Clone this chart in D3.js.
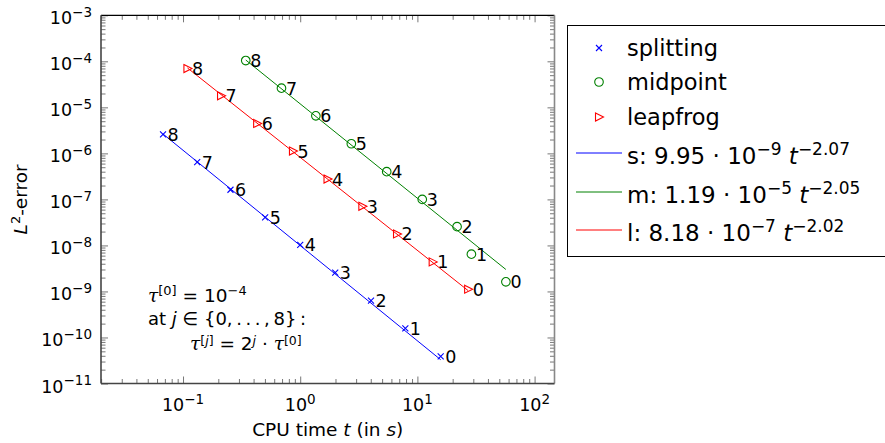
<!DOCTYPE html>
<html>
<head>
<meta charset="utf-8">
<script src="https://cdn.jsdelivr.net/npm/d3@7"></script>
<style>
  body { margin: 0; background: #fff; }
  text { font-family: "DejaVu Sans", sans-serif; fill: #000; }
</style>
</head>
<body>
<div id="chart"></div>
<script>
// step index j = 0..8
const steps = [0, 1, 2, 3, 4, 5, 6, 7, 8];

const splitT = [15.8, 7.89, 4.02, 1.99, 1.0, 0.502, 0.254, 0.132, 0.0675];
const splitErr = [3.87e-11, 1.57e-10, 6.35e-10, 2.57e-9, 1.03e-8, 4.08e-8, 1.62e-7, 6.47e-7, 2.58e-6];

const midT = [56.9, 28.9, 21.8, 11.0, 5.47, 2.73, 1.36, 0.692, 0.343];
const midErr = [1.62e-9, 6.45e-9, 2.56e-8, 1.0e-7, 4.0e-7, 1.62e-6, 6.55e-6, 2.61e-5, 1.04e-4];

const leapT = [27.1, 13.5, 6.70, 3.39, 1.71, 0.867, 0.429, 0.211, 0.109];
const leapErr = [1.12e-9, 4.39e-9, 1.78e-8, 7.08e-8, 2.77e-7, 1.12e-6, 4.47e-6, 1.78e-5, 6.97e-5];

// fitted power laws c * t^p
const fitNames = ["s", "m", "l"];
const fitCoef = [9.95e-9, 1.19e-5, 8.18e-7];
const fitCoefMant = ["9.95", "1.19", "8.18"];
const fitCoefExp = ["\u22129", "\u22125", "\u22127"];
const fitPow = [-2.07, -2.05, -2.02];

const xTickExp = [-1, 0, 1, 2];
const yTickExp = [-11, -10, -9, -8, -7, -6, -5, -4, -3];

const width = 885, height = 443;
const margin = { top: 15.3, left: 101, right: 885 - 554.5, bottom: 443 - 383.5 };

const svg = d3.select("#chart").append("svg")
  .attr("width", width).attr("height", height);

const x = d3.scaleLog().domain([Math.pow(10, -1.70), Math.pow(10, 2.17)])
  .range([margin.left, width - margin.right]);
const y = d3.scaleLog().domain([1e-11, 1e-3])
  .range([height - margin.bottom, margin.top]);

const x0 = x.range()[0], x1 = x.range()[1];
const y0 = y.range()[0], y1 = y.range()[1];

// minor tick values
function minors(lo, hi) {
  const out = [];
  for (let e = lo; e < hi; e++)
    for (let k = 2; k <= 9; k++) out.push(k * Math.pow(10, e));
  return out;
}
const xMinor = minors(-2, 3).filter(v => v >= x.domain()[0] && v <= x.domain()[1]);
const yMinor = minors(-11, -3);
const xMajor = xTickExp.map(e => Math.pow(10, e));
const yMajor = yTickExp.map(e => Math.pow(10, e));

function tickAxis(axis, vals, size, tr) {
  const g = svg.append("g").attr("transform", tr)
    .call(axis.tickValues(vals).tickSize(size).tickSizeOuter(0).tickFormat(""));
  g.select(".domain").remove();
  g.selectAll("line").attr("stroke", "#777").attr("stroke-width", 1);
  return g;
}
// ticks pointing inside on all four sides
tickAxis(d3.axisBottom(x), xMinor, -4.5, `translate(0,${y0})`);
tickAxis(d3.axisBottom(x), xMajor, -7, `translate(0,${y0})`);
tickAxis(d3.axisTop(x), xMinor, -4.5, `translate(0,${y1})`);
tickAxis(d3.axisTop(x), xMajor, -7, `translate(0,${y1})`);
tickAxis(d3.axisLeft(y), yMinor, -4.5, `translate(${x0},0)`);
tickAxis(d3.axisLeft(y), yMajor, -7, `translate(${x0},0)`);
tickAxis(d3.axisRight(y), yMinor, -4.5, `translate(${x1},0)`);
tickAxis(d3.axisRight(y), yMajor, -7, `translate(${x1},0)`);

// frame
svg.append("line").attr("x1", x0).attr("x2", x1).attr("y1", y1).attr("y2", y1)
  .attr("stroke", "#000").attr("stroke-width", 1.2);
svg.append("line").attr("x1", x1).attr("x2", x1).attr("y1", y1).attr("y2", y0)
  .attr("stroke", "#888").attr("stroke-width", 1.6);
svg.append("line").attr("x1", x0).attr("x2", x0).attr("y1", y1).attr("y2", y0)
  .attr("stroke", "#444").attr("stroke-width", 1.6);
svg.append("line").attr("x1", x0).attr("x2", x1).attr("y1", y0).attr("y2", y0)
  .attr("stroke", "#444").attr("stroke-width", 1.6);

// base^exp text helper
function powText(t, base, exp, fsExp, lift) {
  t.append("tspan").text(base);
  t.append("tspan").attr("dy", -lift).style("font-size", fsExp + "px").text(exp);
  return t;
}

// tick labels
xTickExp.forEach(e => {
  const t = svg.append("text").attr("x", x(Math.pow(10, e))).attr("y", 411)
    .attr("text-anchor", "middle").style("font-size", "17.5px");
  powText(t, "10", e < 0 ? "\u2212" + (-e) : String(e), 13.5, 7.5);
});
yTickExp.forEach(e => {
  const t = svg.append("text").attr("x", 92).attr("y", y(Math.pow(10, e)) + 9)
    .attr("text-anchor", "end").style("font-size", "17.5px");
  powText(t, "10", "\u2212" + (-e), 13.5, 7.5);
});

// axis labels
const xl = svg.append("text").attr("x", (x0 + x1) / 2).attr("y", 436)
  .attr("text-anchor", "middle").style("font-size", "18.5px");
xl.append("tspan").text("CPU time ");
xl.append("tspan").style("font-style", "italic").text("t");
xl.append("tspan").text(" (in ");
xl.append("tspan").style("font-style", "italic").text("s");
xl.append("tspan").text(")");

const yl = svg.append("text").attr("transform", `translate(27,${(y0 + y1) / 2}) rotate(-90)`)
  .attr("text-anchor", "middle").style("font-size", "18.5px");
yl.append("tspan").style("font-style", "italic").text("L");
yl.append("tspan").attr("dy", -7).style("font-size", "13px").text("2");
yl.append("tspan").attr("dy", 7).text("-error");

// series
const series = [
  { t: splitT, e: splitErr, color: "#0000ff", mark: "cross", fit: 0 },
  { t: midT, e: midErr, color: "#008000", mark: "circle", fit: 1 },
  { t: leapT, e: leapErr, color: "#ff0000", mark: "tri", fit: 2 }
];

function drawMark(g, kind, color) {
  if (kind === "cross") {
    g.append("path").attr("d", "M-3,-3L3,3M-3,3L3,-3")
      .attr("stroke", color).attr("stroke-width", 1.1).attr("fill", "none");
  } else if (kind === "circle") {
    g.append("circle").attr("r", 4.3)
      .attr("stroke", color).attr("stroke-width", 1.1).attr("fill", "none");
  } else {
    g.append("path").attr("d", "M-3.5,-4L4.5,0L-3.5,4Z")
      .attr("stroke", color).attr("stroke-width", 1.1).attr("fill", "none");
  }
}

const fitLine = d3.line().x(d => x(d[0])).y(d => y(d[1]));

series.forEach(s => {
  const c = fitCoef[s.fit], p = fitPow[s.fit];
  const ext = d3.extent(s.t);
  svg.append("path")
    .datum(ext.map(t => [t, c * Math.pow(t, p)]))
    .attr("d", fitLine).attr("fill", "none")
    .attr("stroke", s.color).attr("stroke-width", 1);

  steps.forEach(j => {
    const g = svg.append("g")
      .attr("transform", `translate(${x(s.t[j])},${y(s.e[j])})`);
    drawMark(g, s.mark, s.color);
    g.append("text").attr("x", 4.5).attr("y", 6.5).style("font-size", "17.5px").text(j);
  });
});

// annotation
const serif = "'DejaVu Serif', serif";
const a1 = svg.append("text").attr("x", 148).attr("y", 302).style("font-size", "18.5px");
a1.append("tspan").style("font-family", serif).style("font-style", "italic").text("\u03C4");
a1.append("tspan").attr("dy", -7).style("font-size", "13px").text("[0]");
a1.append("tspan").attr("dy", 7).text(" = 10");
a1.append("tspan").attr("dy", -7).style("font-size", "13px").text("\u22124");

const a2 = svg.append("text").attr("x", 148).attr("y", 325).style("font-size", "18px");
a2.append("tspan").text("at ");
a2.append("tspan").style("font-style", "italic").text("j");
a2.append("tspan").text(" \u2208 {0,\u2009.\u2009.\u2009.\u2009,\u20098}\u2009:");

const a3 = svg.append("text").attr("x", 190).attr("y", 350).style("font-size", "18.5px");
a3.append("tspan").style("font-family", serif).style("font-style", "italic").text("\u03C4");
a3.append("tspan").attr("dy", -5).style("font-size", "12.5px").text("[");
a3.append("tspan").style("font-size", "12.5px").style("font-style", "italic").text("j");
a3.append("tspan").style("font-size", "12.5px").text("]");
a3.append("tspan").attr("dy", 5).text(" = 2");
a3.append("tspan").attr("dy", -5).style("font-size", "12.5px").style("font-style", "italic").text("j");
a3.append("tspan").attr("dy", 5).text(" \u00B7 ");
a3.append("tspan").style("font-family", serif).style("font-style", "italic").text("\u03C4");
a3.append("tspan").attr("dy", -5).style("font-size", "12.5px").text("[0]");

// legend
const leg = svg.append("g");
leg.append("rect").attr("x", 567.5).attr("y", 25.5).attr("width", 330).attr("height", 231)
  .attr("fill", "#fff").attr("stroke", "#000").attr("stroke-width", 1);

const legNames = ["splitting", "midpoint", "leapfrog"];
const legMarkY = [48, 82, 117];
series.forEach((s, i) => {
  const g = leg.append("g").attr("transform", `translate(599,${legMarkY[i]})`);
  drawMark(g, s.mark, s.color);
  leg.append("text").attr("x", 627).attr("y", legMarkY[i] + 8)
    .style("font-size", "22.5px").text(legNames[i]);
});

const legLineY = [153, 192, 230];
series.forEach((s, i) => {
  const k = s.fit;
  leg.append("line").attr("x1", 576).attr("x2", 622)
    .attr("y1", legLineY[i]).attr("y2", legLineY[i])
    .attr("stroke", s.color).attr("stroke-width", 1);
  const t = leg.append("text").attr("x", 627).attr("y", legLineY[i] + 11)
    .style("font-size", "23px");
  t.append("tspan").text(fitNames[k] + ": " + fitCoefMant[k] + " \u00B7 10");
  t.append("tspan").attr("dy", -9).style("font-size", "17px").text(fitCoefExp[k]);
  t.append("tspan").attr("dy", 9).text(" ");
  t.append("tspan").style("font-style", "italic").text("t");
  t.append("tspan").attr("dy", -9).style("font-size", "17px")
    .text("\u2212" + Math.abs(fitPow[k]).toFixed(2));
});
</script>
</body>
</html>
